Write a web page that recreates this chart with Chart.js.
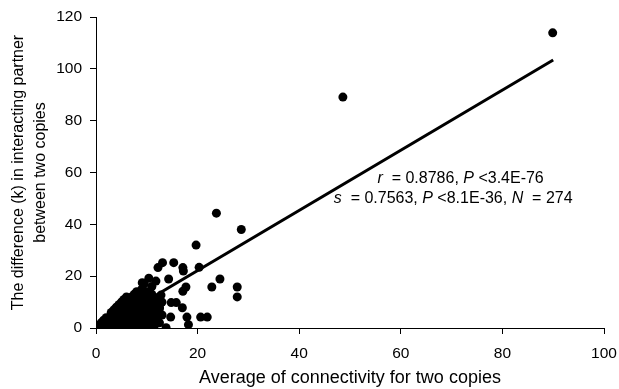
<!DOCTYPE html>
<html>
<head>
<meta charset="utf-8">
<script src="https://cdn.jsdelivr.net/npm/chart.js@4/dist/chart.umd.min.js"></script>
<style>
  html,body{margin:0;padding:0;background:#fff;}
  #wrap{width:619px;height:389px;}
</style>
</head>
<body>
<div id="wrap"><canvas id="c" width="619" height="389"></canvas></div>
<script>
// outlying points
const outX=[89.9,48.6,23.7,28.6,19.7,13.1,15.3,12.2,17.1,17.2,20.3,10.4,9.1,11.8,14.3,24.4,17.7,22.8,27.8,27.8,17.1,14.8,15.8,17,14.7,17.9,20.6,21.9,18.2,13.8,12.2,12.5,11,12.8];
const outY=[113.9,89.1,44.3,38,32,25.2,25.2,23.3,23.3,22,23.4,19.2,17.5,18.1,18.9,18.9,15.8,15.8,15.8,12,14.2,9.8,9.8,7.8,4.2,4.2,4.2,4.2,1.3,0.1,2.3,7.5,11.4,12.7];

// dense cluster near the origin: each row is an x value and the y values seen there
const clusterX=[0.5,1,1.5,2,2.5,3,3.5,4,4.5,5,5.5,6,6.5,7,7.5,8,8.5,9,9.5,10,10.5,11,11.5,12,12.5,13];
const clusterY=[
  [0,1],[0,2],[0,1,3],[0,2,4],[0,2,4],[0,2,4,6],[1,3,5,7],[0,2,4,6,8],[1,3,5,7,9],
  [0,2,4,6,8,10],[1,3,5,7,9,11],[0,2,4,6,8,10,12],[1,3,5,7,9,11],[0,2,4,6,8,10,12],
  [1,3,5,7,9,11,13],[0,2,4,6,8,10,12,14],[1,3,5,7,9,11,13],[0,2,4,6,8,10,12,15],
  [1,3,5,7,9,11,13,17],[0,2,4,6,8,11,14],[1,3,5,8,12],[0,2,5,9,13,16],[1,4,7,10],[3,6,11],[2,8],[5,10]
];

// fitted line end points
const fitX=[0.9,90];
const fitY=[0,103.4];

const xTicks=[0,20,40,60,80,100];
const yTicks=[0,20,40,60,80,100,120];

const yTitle=["The difference (k) in interacting partner","between two copies"];
const xTitle="Average of connectivity for two copies";

// stats text, pieces flagged italic
const statLines=[
  {x:55.4,y:56.0,parts:[["r",1],["  = 0.8786, ",0],["P",1],[" <3.4E-76",0]]},
  {x:46.8,y:48.1,parts:[["s",1],["  = 0.7563, ",0],["P",1],[" <8.1E-36, ",0],["N",1],["  = 274",0]]}
];

const pts=[];
clusterX.forEach((x,i)=>clusterY[i].forEach(y=>pts.push({x:x,y:y})));
outX.forEach((x,i)=>pts.push({x:x,y:outY[i]}));

const FONT="'Liberation Sans', Arial, sans-serif";

const statsPlugin={
  id:"stats",
  afterDatasetsDraw(chart){
    const ctx=chart.ctx,xs=chart.scales.x,ys=chart.scales.y;
    ctx.save();
    ctx.fillStyle="#000";
    ctx.textBaseline="alphabetic";
    statLines.forEach(l=>{
      let px=xs.getPixelForValue(l.x);
      const py=ys.getPixelForValue(l.y);
      l.parts.forEach(p=>{
        ctx.font=(p[1]?"italic ":"")+"16px "+FONT;
        ctx.fillText(p[0],px,py);
        px+=ctx.measureText(p[0]).width;
      });
    });
    ctx.restore();
  }
};

new Chart(document.getElementById("c"),{
  type:"scatter",
  data:{
    datasets:[
      {
        data:pts,
        backgroundColor:"#000",
        borderColor:"#000",
        pointRadius:4.5,
        pointHoverRadius:4.5,
        borderWidth:0
      },
      {
        type:"line",
        data:fitX.map((x,i)=>({x:x,y:fitY[i]})),
        borderColor:"#000",
        borderWidth:3,
        pointRadius:0,
        fill:false
      }
    ]
  },
  options:{
    responsive:false,
    animation:false,
    events:[],
    layout:{padding:{top:17,right:15,left:0,bottom:0}},
    plugins:{legend:{display:false},tooltip:{enabled:false}},
    scales:{
      x:{
        type:"linear",
        min:0,max:100,
        afterFit:s=>{s.height=61;s.paddingRight=0;s.paddingLeft=0;},
        afterBuildTicks:s=>{s.ticks=xTicks.map(v=>({value:v}));},
        grid:{drawOnChartArea:false,drawTicks:true,tickLength:6,color:"#000"},
        border:{color:"#000",width:1},
        ticks:{color:"#000",font:{family:FONT,size:15.5},padding:10,maxRotation:0},
        title:{display:true,text:xTitle,color:"#000",font:{family:FONT,size:18,lineHeight:1.2},padding:{top:0,bottom:0}}
      },
      y:{
        type:"linear",
        min:0,max:120,
        afterFit:s=>{s.width=96;s.paddingTop=0;s.paddingBottom=0;},
        afterBuildTicks:s=>{s.ticks=yTicks.map(v=>({value:v}));},
        grid:{drawOnChartArea:false,drawTicks:true,tickLength:6,color:"#000"},
        border:{color:"#000",width:1},
        ticks:{color:"#000",font:{family:FONT,size:15.5},padding:8},
        title:{display:true,text:yTitle,color:"#000",font:{family:FONT,size:16,lineHeight:1.42},padding:{top:7,bottom:0}}
      }
    }
  },
  plugins:[statsPlugin]
});
</script>
</body>
</html>
